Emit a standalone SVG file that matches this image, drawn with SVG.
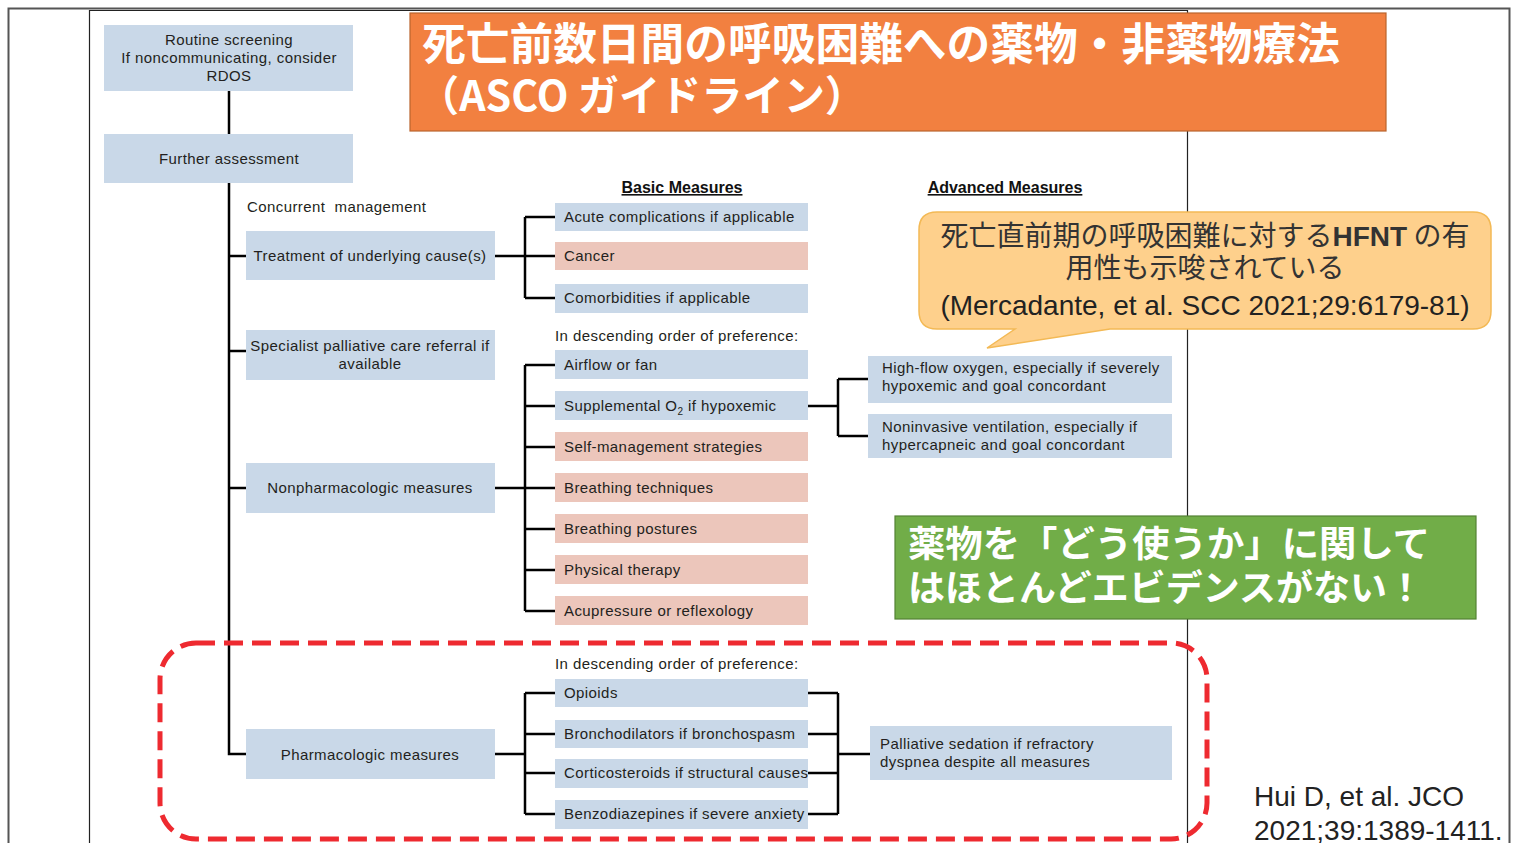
<svg xmlns="http://www.w3.org/2000/svg" width="1517" height="843" viewBox="0 0 1517 843">
<style>
.t{font-family:"Liberation Sans",Arial,sans-serif;font-size:15px;letter-spacing:0.42px;fill:#231F20}
.c{text-anchor:middle}
.b{fill:#C9D8E8}
.p{fill:#ECC6BB}
.ln{stroke:#000;stroke-width:2.5;fill:none}
.hd{font-family:"Liberation Sans",Arial,sans-serif;font-size:16px;font-weight:bold;fill:#111;text-anchor:middle;text-decoration:underline}
.jp{font-family:"Noto Sans CJK JP","Liberation Sans",sans-serif}
</style>
<rect width="1517" height="843" fill="#fff"/>
<!-- frames -->
<g id="frames" fill="none">
<path d="M8.5 843 V8.5 H1509.5 V843" stroke="#555" stroke-width="2"/>
<path d="M89.5 843 V10.5 H1187.5 V843" stroke="#222" stroke-width="1.2"/>
</g>
<!-- connectors -->
<g id="connectors" class="ln">
<path d="M229 91 V134"/>
<path d="M229 183 V754 H246"/>
<path d="M229 256 H246"/>
<path d="M229 351 H246"/>
<path d="M229 488 H246"/>
<path d="M495 256 H525 M525 217 V298 M525 217 H555 M525 256 H555 M525 298 H555"/>
<path d="M495 488 H525 M525 365 V611 M525 365 H555 M525 406 H555 M525 447 H555 M525 488 H555 M525 529 H555 M525 570 H555 M525 611 H555"/>
<path d="M808 406 H838 M838 379 V436 M838 379 H868 M838 436 H868"/>
<path d="M495 754 H525 M525 693 V814 M525 693 H555 M525 734 H555 M525 773 H555 M525 814 H555"/>
<path d="M808 693 H838 M808 734 H838 M808 773 H838 M808 814 H838 M838 693 V814 M838 754 H870"/>
</g>
<!-- left column nodes -->
<g id="n-routine"><rect class="b" x="104" y="25" width="249" height="66"/>
<text class="t c" x="229" y="45">Routine screening</text><text class="t c" x="229" y="63">If noncommunicating, consider</text><text class="t c" x="229" y="81">RDOS</text></g>
<g id="n-further"><rect class="b" x="104" y="134" width="249" height="49"/><text class="t c" x="229" y="164">Further assessment</text></g>
<g id="l-concurrent"><text class="t" x="247" y="212" xml:space="preserve">Concurrent  management</text></g>
<g id="n-treatment"><rect class="b" x="246" y="231" width="249" height="49"/><text class="t c" x="370" y="261">Treatment of underlying cause(s)</text></g>
<g id="n-specialist"><rect class="b" x="246" y="330" width="249" height="50"/><text class="t c" x="370" y="351">Specialist palliative care referral if</text><text class="t c" x="370" y="369">available</text></g>
<g id="n-nonpharm"><rect class="b" x="246" y="463" width="249" height="50"/><text class="t c" x="370" y="493">Nonpharmacologic measures</text></g>
<g id="n-pharm"><rect class="b" x="246" y="729" width="249" height="50"/><text class="t c" x="370" y="760">Pharmacologic measures</text></g>
<!-- headers -->
<g id="h-basic"><text class="hd" x="682" y="193">Basic Measures</text></g>
<g id="h-advanced"><text class="hd" x="1005" y="193">Advanced Measures</text></g>
<!-- basic items -->
<g id="n-acute"><rect class="b" x="555" y="203" width="253" height="28"/><text class="t" x="564" y="222">Acute complications if applicable</text></g>
<g id="n-cancer"><rect class="p" x="555" y="242" width="253" height="28"/><text class="t" x="564" y="261">Cancer</text></g>
<g id="n-comorb"><rect class="b" x="555" y="284" width="253" height="29"/><text class="t" x="564" y="303">Comorbidities if applicable</text></g>
<g id="l-order1"><text class="t" x="555" y="341">In descending order of preference:</text></g>
<g id="n-airflow"><rect class="b" x="555" y="350" width="253" height="29"/><text class="t" x="564" y="370">Airflow or fan</text></g>
<g id="n-o2"><rect class="b" x="555" y="391" width="253" height="29"/><text class="t" x="564" y="411">Supplemental O<tspan font-size="10" dy="4">2</tspan><tspan dy="-4"> if hypoxemic</tspan></text></g>
<g id="n-self"><rect class="p" x="555" y="432" width="253" height="29"/><text class="t" x="564" y="452">Self-management strategies</text></g>
<g id="n-btech"><rect class="p" x="555" y="473" width="253" height="29"/><text class="t" x="564" y="493">Breathing techniques</text></g>
<g id="n-bpost"><rect class="p" x="555" y="514" width="253" height="29"/><text class="t" x="564" y="534">Breathing postures</text></g>
<g id="n-physical"><rect class="p" x="555" y="555" width="253" height="29"/><text class="t" x="564" y="575">Physical therapy</text></g>
<g id="n-acu"><rect class="p" x="555" y="596" width="253" height="29"/><text class="t" x="564" y="616">Acupressure or reflexology</text></g>
<!-- advanced -->
<g id="n-hfo"><rect class="b" x="868" y="356" width="304" height="47"/><text class="t" x="882" y="373">High-flow oxygen, especially if severely</text><text class="t" x="882" y="391">hypoxemic and goal concordant</text></g>
<g id="n-niv"><rect class="b" x="868" y="414" width="304" height="44"/><text class="t" x="882" y="432">Noninvasive ventilation, especially if</text><text class="t" x="882" y="450">hypercapneic and goal concordant</text></g>
<!-- pharm items -->
<g id="l-order2"><text class="t" x="555" y="669">In descending order of preference:</text></g>
<g id="n-opioids"><rect class="b" x="555" y="679" width="253" height="28"/><text class="t" x="564" y="698">Opioids</text></g>
<g id="n-broncho"><rect class="b" x="555" y="720" width="253" height="28"/><text class="t" x="564" y="739">Bronchodilators if bronchospasm</text></g>
<g id="n-cortico"><rect class="b" x="555" y="759" width="253" height="29"/><text class="t" x="564" y="778" letter-spacing="0.3">Corticosteroids if structural causes</text></g>
<g id="n-benzo"><rect class="b" x="555" y="800" width="253" height="29"/><text class="t" x="564" y="819" letter-spacing="0.3">Benzodiazepines if severe anxiety</text></g>
<g id="n-sedation"><rect class="b" x="870" y="726" width="302" height="54"/><text class="t" x="880" y="749">Palliative sedation if refractory</text><text class="t" x="880" y="767">dyspnea despite all measures</text></g>
<!-- red dashed highlight -->
<g id="highlight"><rect x="160" y="643" width="1047" height="196" rx="36" ry="36" fill="none" stroke="#EE2A30" stroke-width="5" stroke-dasharray="19 9"/></g>
<!-- title -->
<g id="title"><rect x="410" y="13" width="976" height="118" fill="#F28040" stroke="#B9642E" stroke-width="1.2"/>
<text class="jp" x="422" y="60" font-size="44" font-weight="bold" fill="#fff" textLength="918" lengthAdjust="spacingAndGlyphs">死亡前数日間の呼吸困難への薬物・非薬物療法</text>
<text class="jp" x="418" y="111" font-size="42" font-weight="bold" fill="#fff" textLength="448" lengthAdjust="spacingAndGlyphs">（ASCO ガイドライン）</text></g>
<!-- callout -->
<g id="callout"><path d="M937 212 H1473 Q1491 212 1491 230 V311 Q1491 329 1473 329 H1110 L987 348 L1015 329 H937 Q919 329 919 311 V230 Q919 212 937 212 Z" fill="#FED08C" stroke="#F3B955" stroke-width="1.5"/>
<text class="jp" x="1205" y="246" font-size="28" fill="#333" text-anchor="middle">死亡直前期の呼吸困難に対する<tspan font-family="Liberation Sans,Arial,sans-serif" font-weight="bold">HFNT</tspan> の有</text>
<text class="jp" x="1205" y="278" font-size="28" fill="#333" text-anchor="middle">用性も示唆されている</text>
<text x="1205" y="315" font-family="Liberation Sans,Arial,sans-serif" font-size="28" fill="#222" text-anchor="middle">(Mercadante, et al. SCC 2021;29:6179-81)</text></g>
<!-- green note -->
<g id="note"><rect x="895" y="516" width="581" height="103" fill="#71AD48" stroke="#548235" stroke-width="1.2"/>
<text class="jp" x="908" y="557" font-size="36" font-weight="bold" fill="#fff" textLength="522" lengthAdjust="spacingAndGlyphs">薬物を「どう使うか」に関して</text>
<text class="jp" x="908" y="601" font-size="36" font-weight="bold" fill="#fff" textLength="516" lengthAdjust="spacingAndGlyphs">はほとんどエビデンスがない！</text></g>
<!-- citation -->
<g id="citation"><text x="1254" y="806" font-family="Liberation Sans,Arial,sans-serif" font-size="28" fill="#222">Hui D, et al. JCO</text>
<text x="1254" y="840" font-family="Liberation Sans,Arial,sans-serif" font-size="28" fill="#222">2021;39:1389-1411.</text></g>
</svg>
